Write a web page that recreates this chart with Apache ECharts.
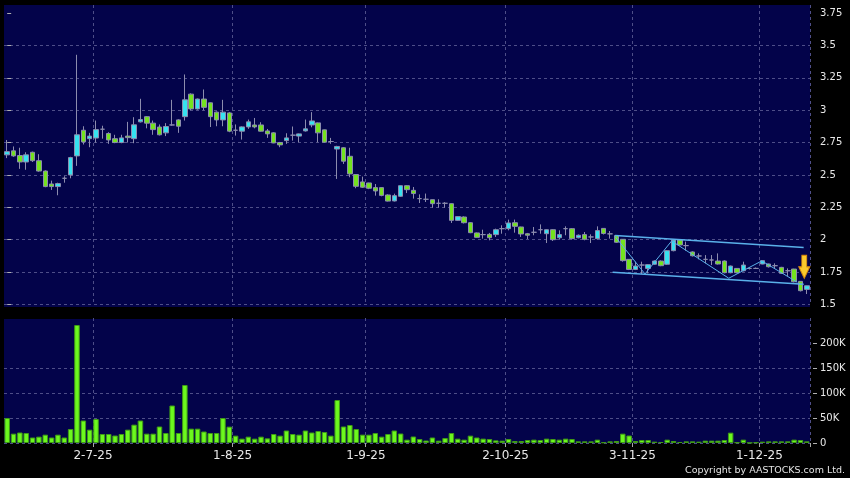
<!DOCTYPE html>
<html>
<head>
<meta charset="utf-8">
<title>Daily chart</title>
<script src="https://cdn.jsdelivr.net/npm/echarts@6/dist/echarts.min.js"></script>
<style>
  html, body { margin: 0; padding: 0; background: #000; }
  #chart { width: 850px; height: 478px; }
</style>
</head>
<body>
<div id="chart"></div>
<script>
// trading days shown on the chart
const dates = [
  '11-6-25','12-6-25','13-6-25','16-6-25','17-6-25','18-6-25','19-6-25','20-6-25','23-6-25','24-6-25','25-6-25','26-6-25','27-6-25','30-6-25',
  '2-7-25','3-7-25','4-7-25','7-7-25','8-7-25','9-7-25','10-7-25','11-7-25','14-7-25','15-7-25','16-7-25','17-7-25','18-7-25','21-7-25','22-7-25','23-7-25','24-7-25','25-7-25','28-7-25','29-7-25','30-7-25','31-7-25',
  '1-8-25','4-8-25','5-8-25','6-8-25','7-8-25','8-8-25','11-8-25','12-8-25','13-8-25','14-8-25','15-8-25','18-8-25','19-8-25','20-8-25','21-8-25','22-8-25','25-8-25','26-8-25','27-8-25','28-8-25','29-8-25',
  '1-9-25','2-9-25','3-9-25','4-9-25','5-9-25','8-9-25','9-9-25','10-9-25','11-9-25','12-9-25','15-9-25','16-9-25','17-9-25','18-9-25','19-9-25','22-9-25','23-9-25','24-9-25','25-9-25','26-9-25','29-9-25','30-9-25',
  '2-10-25','3-10-25','6-10-25','8-10-25','9-10-25','10-10-25','13-10-25','14-10-25','15-10-25','16-10-25','17-10-25','20-10-25','21-10-25','22-10-25','23-10-25','24-10-25','27-10-25','28-10-25','30-10-25','31-10-25',
  '3-11-25','4-11-25','5-11-25','6-11-25','7-11-25','10-11-25','11-11-25','12-11-25','13-11-25','14-11-25','17-11-25','18-11-25','19-11-25','20-11-25','21-11-25','24-11-25','25-11-25','26-11-25','27-11-25','28-11-25',
  '1-12-25','2-12-25','3-12-25','4-12-25','5-12-25','8-12-25','9-12-25','10-12-25'
];

const open = [
  2.655, 2.686, 2.65, 2.60, 2.675, 2.61, 2.53, 2.43, 2.41, 2.474,
  2.50, 2.647, 2.845, 2.78, 2.785, 2.853, 2.82, 2.78, 2.75, 2.80,
  2.78, 2.91, 2.95, 2.90, 2.87, 2.825, 2.886, 2.925, 2.95, 3.124,
  3.01, 3.086, 3.057, 2.985, 2.925, 2.979, 2.845, 2.838, 2.871, 2.886,
  2.886, 2.84, 2.825, 2.75, 2.765, 2.807, 2.80, 2.84, 2.886, 2.902,
  2.848, 2.758, 2.70, 2.71, 2.644, 2.503, 2.446, 2.438, 2.402, 2.402,
  2.345, 2.299, 2.335, 2.417, 2.381, 2.317, 2.312, 2.309, 2.281, 2.281,
  2.278, 2.149, 2.175, 2.131, 2.052, 2.039, 2.041, 2.039, 2.085, 2.085,
  2.131, 2.098, 2.046, 2.057, 2.077, 2.046, 2.077, 2.015, 2.085, 2.085,
  2.015, 2.039, 2.021, 2.008, 2.087, 2.045, 2.032, 2.003, 1.848, 1.77,
  1.804, 1.778, 1.81, 1.835, 1.81, 1.915, 1.997, 1.954, 1.905, 1.874,
  1.848, 1.843, 1.835, 1.835, 1.745, 1.778, 1.76, 1.778, 1.778, 1.812,
  1.812, 1.799, 1.786, 1.76, 1.773, 1.678, 1.616
];
const close = [
  2.68, 2.647, 2.60, 2.655, 2.61, 2.53, 2.41, 2.41, 2.433, 2.474,
  2.634, 2.81, 2.755, 2.80, 2.85, 2.853, 2.77, 2.75, 2.786, 2.788,
  2.887, 2.928, 2.90, 2.85, 2.81, 2.874, 2.886, 2.876, 3.08, 3.01,
  3.086, 3.022, 2.95, 2.925, 2.985, 2.838, 2.845, 2.871, 2.91, 2.871,
  2.838, 2.817, 2.747, 2.732, 2.786, 2.807, 2.817, 2.856, 2.917, 2.825,
  2.753, 2.758, 2.72, 2.606, 2.508, 2.412, 2.405, 2.397, 2.376, 2.342,
  2.298, 2.34, 2.417, 2.386, 2.356, 2.317, 2.312, 2.278, 2.281, 2.281,
  2.149, 2.178, 2.131, 2.054, 2.018, 2.039, 2.015, 2.077, 2.085, 2.129,
  2.103, 2.044, 2.034, 2.057, 2.077, 2.077, 2.0, 2.039, 2.085, 2.008,
  2.034, 2.003, 2.021, 2.07, 2.048, 2.045, 1.98, 1.838, 1.77, 1.796,
  1.804, 1.807, 1.835, 1.799, 1.915, 1.997, 1.959, 1.954, 1.876, 1.874,
  1.848, 1.843, 1.812, 1.745, 1.796, 1.745, 1.804, 1.778, 1.778, 1.838,
  1.791, 1.799, 1.74, 1.76, 1.675, 1.606, 1.644
];
const low = [
  2.63, 2.64, 2.547, 2.54, 2.60, 2.525, 2.405, 2.384, 2.343, 2.44,
  2.474, 2.57, 2.735, 2.714, 2.75, 2.78, 2.74, 2.745, 2.745, 2.75,
  2.745, 2.905, 2.86, 2.81, 2.805, 2.80, 2.88, 2.825, 2.92, 3.0,
  3.005, 3.0, 2.87, 2.876, 2.876, 2.83, 2.804, 2.773, 2.856, 2.86,
  2.835, 2.786, 2.745, 2.714, 2.74, 2.765, 2.753, 2.835, 2.868, 2.753,
  2.75, 2.74, 2.469, 2.585, 2.482, 2.397, 2.40, 2.39, 2.34, 2.335,
  2.295, 2.295, 2.33, 2.36, 2.317, 2.283, 2.291, 2.247, 2.247, 2.247,
  2.129, 2.145, 2.125, 2.05, 2.015, 2.008, 1.995, 2.021, 2.046, 2.072,
  2.054, 2.021, 2.005, 2.034, 2.046, 1.974, 1.99, 2.0, 2.034, 2.0,
  2.01, 1.995, 1.974, 2.0, 2.04, 2.008, 1.975, 1.83, 1.765, 1.765,
  1.735, 1.74, 1.805, 1.795, 1.805, 1.91, 1.955, 1.915, 1.87, 1.848,
  1.817, 1.804, 1.808, 1.74, 1.74, 1.74, 1.755, 1.77, 1.775, 1.81,
  1.785, 1.778, 1.735, 1.719, 1.67, 1.60, 1.58
];
const high = [
  2.77, 2.72, 2.71, 2.675, 2.68, 2.66, 2.535, 2.456, 2.44, 2.49,
  2.64, 3.428, 2.876, 2.825, 2.92, 2.88, 2.83, 2.81, 2.81, 2.91,
  2.946, 3.088, 2.955, 2.92, 2.89, 2.90, 3.08, 2.93, 3.276, 3.13,
  3.09, 3.16, 3.06, 2.99, 3.08, 2.985, 2.89, 2.875, 2.928, 2.94,
  2.907, 2.855, 2.83, 2.755, 2.822, 2.874, 2.82, 2.928, 2.985, 2.905,
  2.85, 2.786, 2.725, 2.715, 2.71, 2.505, 2.487, 2.44, 2.43, 2.405,
  2.35, 2.355, 2.42, 2.42, 2.407, 2.35, 2.356, 2.31, 2.312, 2.29,
  2.28, 2.18, 2.18, 2.135, 2.055, 2.077, 2.052, 2.085, 2.111, 2.155,
  2.155, 2.10, 2.052, 2.098, 2.118, 2.08, 2.08, 2.072, 2.103, 2.09,
  2.04, 2.059, 2.041, 2.103, 2.09, 2.067, 2.035, 2.005, 1.85, 1.83,
  1.83, 1.81, 1.84, 1.84, 1.92, 2.003, 2.0, 1.985, 1.91, 1.894,
  1.881, 1.881, 1.894, 1.84, 1.80, 1.78, 1.83, 1.785, 1.785, 1.84,
  1.815, 1.817, 1.79, 1.778, 1.775, 1.68, 1.645
];
const volume = [
  50000, 18700, 21000, 20000, 11000, 12700, 16700, 11000, 16700, 11000,
  28000, 236000, 45000, 26700, 48000, 18000, 18000, 15000, 18000, 26700,
  36700, 45000, 18700, 18700, 33000, 20000, 75000, 20000, 116000, 28700,
  28700, 23000, 20000, 20000, 50000, 32700, 14700, 8700, 12700, 8700,
  12700, 9300, 18000, 14700, 25000, 18000, 16700, 25000, 21000, 24000,
  22000, 14700, 86000, 33000, 36000, 28000, 16700, 16700, 20000, 12700,
  18000, 25000, 19000, 6700, 13000, 8000, 5000, 11000, 4700, 10000,
  20000, 8700, 6700, 14700, 11000, 8700, 8000, 5300, 4700, 8000,
  4000, 4000, 6000, 6700, 6000, 8700, 8000, 6700, 8700, 8000,
  3300, 3300, 3300, 6700, 1300, 3300, 4000, 18700, 15000, 4000,
  6000, 6000, 2700, 2000, 6700, 4000, 2000, 3300, 3300, 2700,
  4700, 4700, 4700, 6000, 20700, 1300, 6700, 500, 1300, 2700,
  3300, 3300, 3300, 3300, 6700, 6000, 3300
];

const dateLabels = ['2-7-25', '1-8-25', '1-9-25', '2-10-25', '3-11-25', '1-12-25'];
const priceTicks = [1.5, 1.75, 2, 2.25, 2.5, 2.75, 3, 3.25, 3.5, 3.75];
const volumeTicks = [0, 50000, 100000, 150000, 200000];

// hand drawn trend channel and swing line: [candle index, price]
const channelTop = [[95.8, 2.032], [125.5, 1.939]];
const channelBottom = [[95.4, 1.748], [125.5, 1.656]];
const swingLine = [[95.8, 2.024], [100.5, 1.735], [104.7, 1.99], [113.7, 1.702], [118.9, 1.836], [124.5, 1.671]];
const arrowPoint = [[125.6, 1.79]];

const showDate = (idx, value) => dateLabels.indexOf(value) >= 0;

const navy = '#03034a';
const gridLine = { color: '#4e4e88', type: [3, 3], width: 1 };
const labelFont = 'DejaVu Sans';

const chart = echarts.init(document.getElementById('chart'));

const option = {
  backgroundColor: '#000',
  animation: false,
  graphic: [
    { type: 'rect', z: -10, shape: { x: 4, y: 5, width: 806, height: 302 }, style: { fill: navy } },
    { type: 'rect', z: -10, shape: { x: 4, y: 319, width: 806, height: 124 }, style: { fill: navy } },
    {
      type: 'text', right: 5, top: 466,
      style: { text: 'Copyright by AASTOCKS.com Ltd.', fill: '#e4e4e4', fontSize: 9.5, fontFamily: labelFont }
    }
  ],
  grid: [
    { left: 4, right: 40, top: 5, height: 299.4 },
    { left: 4, right: 40, top: 318, height: 125 }
  ],
  xAxis: [
    {
      type: 'category', gridIndex: 0, data: dates,
      axisLine: { show: false }, axisTick: { show: false }, axisLabel: { show: false },
      splitLine: { show: true, interval: showDate, lineStyle: gridLine }
    },
    {
      type: 'category', gridIndex: 1, data: dates,
      axisLine: { show: false },
      axisTick: { show: true, interval: showDate, length: 4, lineStyle: { color: '#a8a8a8' } },
      axisLabel: {
        interval: showDate, color: '#e8e8e8', fontSize: 12, fontFamily: labelFont,
        margin: 7, padding: [0, 6, 0, 0]
      },
      splitLine: { show: true, interval: showDate, lineStyle: gridLine }
    },
    { type: 'value', gridIndex: 0, min: -0.5, max: dates.length - 0.5, show: false, position: 'top' }
  ],
  yAxis: [
    {
      type: 'value', gridIndex: 0, position: 'right', offset: 3,
      min: 1.5, max: 3.8125, interval: 0.25,
      axisLine: { show: false },
      axisTick: { show: true, length: 4, customValues: priceTicks, lineStyle: { color: '#b0b0b0' } },
      axisLabel: {
        customValues: priceTicks, margin: 7,
        color: '#e8e8e8', fontSize: 10, fontFamily: labelFont
      },
      splitLine: { show: true, showMaxLine: false, lineStyle: gridLine }
    },
    {
      type: 'value', gridIndex: 1, position: 'right', offset: 3,
      min: 0, max: 250000, interval: 50000,
      axisLine: { show: false },
      axisTick: { show: true, length: 4, customValues: volumeTicks, lineStyle: { color: '#b0b0b0' } },
      axisLabel: {
        customValues: volumeTicks, margin: 7,
        color: '#e8e8e8', fontSize: 10, fontFamily: labelFont,
        formatter: v => (v === 0 ? '0' : v / 1000 + 'K')
      },
      splitLine: { show: true, showMaxLine: false, lineStyle: gridLine }
    }
  ],
  series: [
    {
      type: 'candlestick', xAxisIndex: 0, yAxisIndex: 0,
      barWidth: 5,
      data: open.map((o, i) => [o, close[i], low[i], high[i]]),
      itemStyle: {
        color: '#36e2f0', color0: '#74e21e',
        borderColor: '#8c8cae', borderColor0: '#8c8cae', borderWidth: 1
      }
    },
    {
      type: 'bar', xAxisIndex: 1, yAxisIndex: 1,
      barWidth: 5.5,
      data: volume,
      itemStyle: { color: '#6cf81e', borderColor: '#3f9a16', borderWidth: 1 }
    },
    {
      type: 'line', xAxisIndex: 2, yAxisIndex: 0, data: channelTop, symbol: 'none',
      lineStyle: { color: '#5ab0ea', width: 1.5 }
    },
    {
      type: 'line', xAxisIndex: 2, yAxisIndex: 0, data: channelBottom, symbol: 'none',
      lineStyle: { color: '#5ab0ea', width: 1.5 }
    },
    {
      type: 'line', xAxisIndex: 2, yAxisIndex: 0, data: swingLine, symbol: 'none',
      lineStyle: { color: '#5ab0ea', width: 1 }
    },
    {
      type: 'scatter', xAxisIndex: 2, yAxisIndex: 0, data: arrowPoint,
      symbol: 'path://M3,0 L8,0 L8,11 L11,11 L5.5,22 L0,11 L3,11 Z',
      symbolSize: [11, 23],
      itemStyle: { color: '#fcc92c', borderColor: '#d98a0c', borderWidth: 1, opacity: 1 },
      z: 5
    }
  ]
};

chart.setOption(option);
</script>
</body>
</html>
